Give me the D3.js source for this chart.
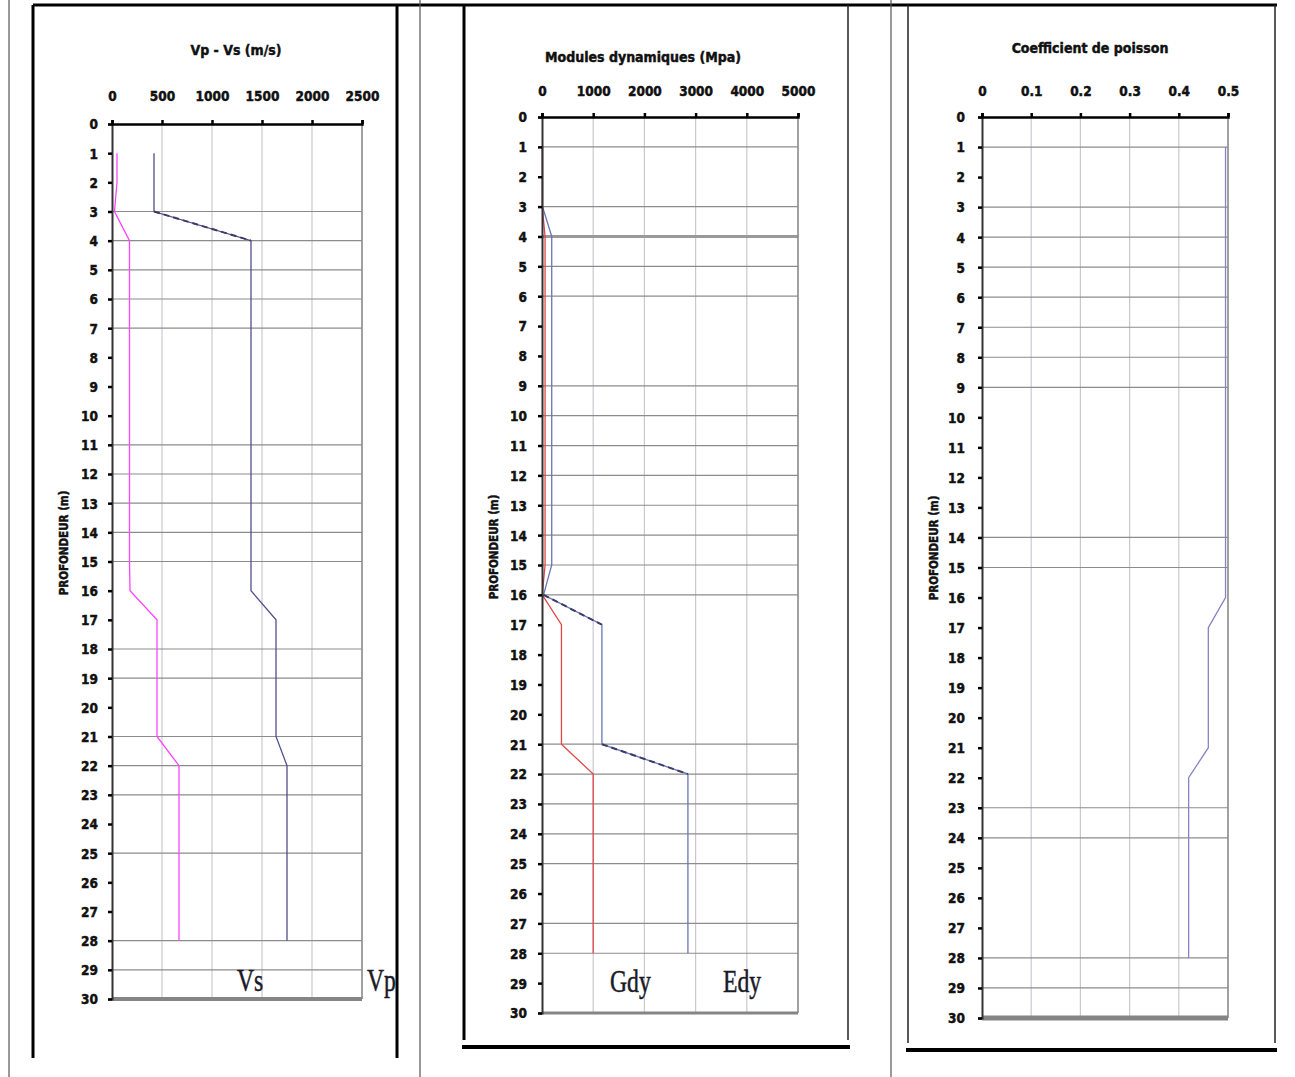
<!DOCTYPE html>
<html>
<head>
<meta charset="utf-8">
<script src="https://cdn.jsdelivr.net/npm/d3@7"></script>
<style>
  html, body { margin: 0; padding: 0; background: #fff; }
  svg { display: block; }
  .lbl { font-family: "DejaVu Sans Condensed", "Liberation Sans Narrow", "DejaVu Sans", sans-serif; font-weight: bold; fill: #111; stroke: #111; stroke-width: 0.45px; }
  .big { font-family: "Liberation Serif", "DejaVu Serif", serif; fill: #1a1a28; stroke: #1a1a28; stroke-width: 0.5px; }
</style>
</head>
<body>
<script>
// ---------------- DATA ----------------
const depthTicks = [0,1,2,3,4,5,6,7,8,9,10,11,12,13,14,15,16,17,18,19,20,21,22,23,24,25,26,27,28,29,30];
const depths = [1,2,3,4,5,6,7,8,9,10,11,12,13,14,15,16,17,18,19,20,21,22,23,24,25,26,27,28];

// Panel 1 : Vp - Vs (m/s)
const velTicks = [0,500,1000,1500,2000,2500];
const vs = [50,50,25,175,175,175,175,175,175,175,175,175,175,175,175,180,450,450,450,450,450,670,670,670,670,670,670,670];
const vp = [420,420,420,1390,1390,1390,1390,1390,1390,1390,1390,1390,1390,1390,1390,1390,1640,1640,1640,1640,1640,1750,1750,1750,1750,1750,1750,1750];
const velGrid = [3,4,5,6,7,11,12,13,14,15,18,19,21,22,23,25,28,29];

// Panel 2 : Modules dynamiques (Mpa)
const modTicks = [0,1000,2000,3000,4000,5000];
const gdy = [5,5,5,60,60,60,60,60,60,60,60,60,60,60,60,5,380,380,380,380,380,1000,1000,1000,1000,1000,1000,1000];
const edy = [10,10,10,190,190,190,190,190,190,190,190,190,190,190,190,30,1170,1170,1170,1170,1170,2850,2850,2850,2850,2850,2850,2850];
const modGrid = [1,3,4,5,6,9,10,11,12,13,14,15,16,21,22,23,24,25,27,28];

// Panel 3 : Coefficient de poisson
const poisTicks = [0,0.1,0.2,0.3,0.4,0.5];
const poisson = [0.495,0.495,0.495,0.495,0.495,0.495,0.495,0.495,0.495,0.495,0.495,0.495,0.495,0.495,0.495,0.495,0.46,0.46,0.46,0.46,0.46,0.42,0.42,0.42,0.42,0.42,0.42,0.42];
const poisGrid = [1,3,4,5,6,7,8,9,14,15,23,24,28,29];

const titles = ["Vp - Vs (m/s)", "Modules dynamiques (Mpa)", "Coefficient de poisson"];
const yTitle = "PROFONDEUR (m)";
const seriesLabels = ["Vs", "Vp", "Gdy", "Edy"];

// ---------------- DRAW ----------------
const W = 1295, H = 1077;
const svg = d3.select("body").append("svg").attr("width", W).attr("height", H);

function panel(cfg) {
  const x = d3.scaleLinear().domain([cfg.ticks[0], cfg.ticks[cfg.ticks.length-1]]).range([cfg.x0, cfg.x1]);
  const y = d3.scaleLinear().domain([0, 30]).range([cfg.y0, cfg.y1]);
  const g = svg.append("g");

  // vertical gridlines
  g.selectAll(".vg").data(cfg.ticks.slice(1, -1)).join("line")
    .attr("x1", d => x(d)).attr("x2", d => x(d))
    .attr("y1", cfg.y0).attr("y2", cfg.y1)
    .attr("stroke", "#c9c9d2").attr("stroke-width", 1.2);

  // horizontal gridlines
  g.selectAll(".hg").data(cfg.grid).join("line")
    .attr("x1", cfg.x0).attr("x2", cfg.x1)
    .attr("y1", d => y(d)).attr("y2", d => y(d))
    .attr("stroke", d => d === cfg.thick ? "#9a9a9a" : "#8c8c8c")
    .attr("stroke-width", d => d === cfg.thick ? 3 : 1.2);

  // right border
  g.append("line").attr("x1", cfg.x1).attr("x2", cfg.x1).attr("y1", cfg.y0).attr("y2", cfg.y1)
    .attr("stroke", "#8a8a8a").attr("stroke-width", 1.6);
  // bottom border
  g.append("line").attr("x1", cfg.x0).attr("x2", cfg.x1).attr("y1", cfg.y1).attr("y2", cfg.y1)
    .attr("stroke", "#858585").attr("stroke-width", cfg.bottomW);

  // series
  cfg.series.forEach(s => {
    const pts = depths.map((dp, i) => [x(s.values[i]), y(dp)]);
    g.append("path").attr("d", d3.line()(pts))
      .attr("fill", "none").attr("stroke", s.color).attr("stroke-width", 1.3);
    // steep transitions rendered as dashed in reference
    for (let i = 0; i < pts.length - 1; i++) {
      if (s.dashSteep && Math.abs(pts[i+1][0] - pts[i][0]) > 40) {
        g.append("path").attr("d", d3.line()([pts[i], pts[i+1]]))
          .attr("fill", "none").attr("stroke", "#3c3c66").attr("stroke-width", 2)
          .attr("stroke-dasharray", "6,4");
      }
    }
  });

  // left axis
  const yAxis = d3.axisLeft(y).tickValues(depthTicks).tickSize(4).tickPadding(cfg.yPad).tickFormat(d3.format("d"));
  const ya = g.append("g").attr("transform", `translate(${cfg.x0},0)`).call(yAxis);
  ya.select(".domain").attr("stroke", "#333").attr("stroke-width", 2);
  ya.selectAll(".tick line").attr("stroke", "#000").attr("stroke-width", 2.5);
  ya.selectAll(".tick text").attr("class", "lbl").style("font-size", "13.5px").attr("dy", "0.36em");

  // top axis
  const xAxis = d3.axisTop(x).tickValues(cfg.ticks).tickSize(4).tickPadding(cfg.xPad)
    .tickFormat(cfg.fmt);
  const xa = g.append("g").attr("transform", `translate(0,${cfg.y0})`).call(xAxis);
  xa.select(".domain").attr("stroke", "#000").attr("stroke-width", 2.5);
  xa.selectAll(".tick line").attr("stroke", "#000").attr("stroke-width", 2.5);
  xa.selectAll(".tick text").attr("class", "lbl").style("font-size", "13.5px");

  // titles
  g.append("text").attr("class", "lbl").attr("x", cfg.titleX).attr("y", cfg.titleY)
    .attr("text-anchor", "middle").style("font-size", "14px").text(cfg.title);
  g.append("text").attr("class", "lbl")
    .attr("transform", `translate(${cfg.ytX},${cfg.ytY}) rotate(-90)`)
    .attr("text-anchor", "middle").style("font-size", "11.5px").text(yTitle);

  return { x, y, g };
}

const p1 = panel({
  x0: 112, x1: 362, y0: 124, y1: 999, ticks: velTicks, fmt: d3.format("d"), grid: velGrid, thick: -1,
  bottomW: 4, yPad: 10, xPad: 19, title: titles[0], titleX: 236, titleY: 55, ytX: 68, ytY: 543,
  series: [ { values: vs, color: "#ff44ff", dashSteep: true }, { values: vp, color: "#50508a", dashSteep: true } ]
});
const p2 = panel({
  x0: 542, x1: 798, y0: 117, y1: 1013, ticks: modTicks, fmt: d3.format("d"), grid: modGrid, thick: 4,
  bottomW: 3, yPad: 11, xPad: 17, title: titles[1], titleX: 643, titleY: 62, ytX: 498, ytY: 547,
  series: [ { values: gdy, color: "#e04848", dashSteep: true }, { values: edy, color: "#6a74b8", dashSteep: true } ]
});
const p3 = panel({
  x0: 982, x1: 1228, y0: 117, y1: 1018, ticks: poisTicks, fmt: d3.format(".1~f"), grid: poisGrid, thick: -1,
  bottomW: 5, yPad: 13, xPad: 17, title: titles[2], titleX: 1090, titleY: 53, ytX: 938, ytY: 548,
  series: [ { values: poisson, color: "#8484c4", dashSteep: false } ]
});

// series labels (text boxes in the original)
function bigLabel(txt, xx, yy) {
  svg.append("text").attr("class", "big")
    .attr("transform", `translate(${xx},${yy}) scale(0.74,1)`)
    .style("font-size", "32px").text(txt);
}
bigLabel(seriesLabels[0], 237, 991);
bigLabel(seriesLabels[1], 367, 991);
bigLabel(seriesLabels[2], 610, 992);
bigLabel(seriesLabels[3], 723, 992);

// page frame lines
function ln(x1, y1, x2, y2, w, c) {
  svg.append("line").attr("x1", x1).attr("y1", y1).attr("x2", x2).attr("y2", y2)
    .attr("stroke", c).attr("stroke-width", w);
}
ln(9, 0, 9, H, 1.2, "#555");
ln(33, 5, 1277, 5, 3, "#000");
ln(33, 5, 33, 1058, 3, "#000");
ln(397, 5, 397, 1058, 3, "#000");
ln(420, 0, 420, H, 1.2, "#555");
ln(464, 5, 464, 1040, 3, "#000");
ln(848, 5, 848, 1040, 1.5, "#222");
ln(462, 1047, 850, 1047, 4, "#000");
ln(891, 0, 891, H, 1.2, "#555");
ln(908, 5, 908, 1043, 1.5, "#222");
ln(1275, 5, 1275, 1043, 1.5, "#222");
ln(906, 1050, 1277, 1050, 4, "#000");
</script>
</body>
</html>
